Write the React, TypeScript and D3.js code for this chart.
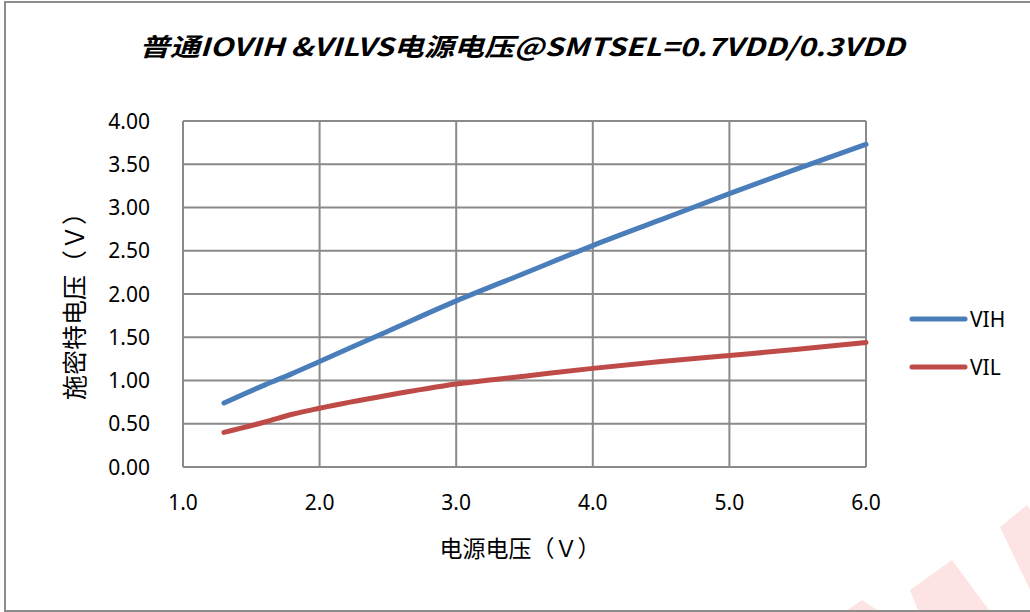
import { useRef, useEffect } from "react";
import * as d3 from "d3";

// supply voltage (V)
const supplyVoltage = [1.3, 1.6, 1.8, 2.0, 2.5, 3.0, 3.5, 4.0, 4.5, 5.0, 5.5, 6.0];
// Schmitt thresholds (V)
const vihValues = [0.74, 0.95, 1.08, 1.22, 1.57, 1.92, 2.24, 2.56, 2.86, 3.16, 3.45, 3.73];
const vilValues = [0.40, 0.52, 0.61, 0.68, 0.83, 0.96, 1.05, 1.14, 1.22, 1.29, 1.36, 1.44];

const xTicks = [1, 2, 3, 4, 5, 6];
const yTicks = [0, 0.5, 1, 1.5, 2, 2.5, 3, 3.5, 4];

const seriesNames = ["VIH", "VIL"];
const seriesColors = ["#4a7ebb", "#be4b48"];

const title = "普通IOVIH &VILVS电源电压@SMTSEL=0.7VDD/0.3VDD";
const xTitle = "电源电压（Ｖ）";
const yTitle = "施密特电压（Ｖ）";

export default function App() {
  const svgRef = useRef<SVGSVGElement>(null);
  const width = 1030;
  const height = 612;

  useEffect(() => {
    if (!svgRef.current) return;
    const svg = d3.select(svgRef.current);
    svg.selectAll("*").remove();

    const margin = { top: 121, right: 164, bottom: 145, left: 183 };
    const chartWidth = width - margin.left - margin.right;
    const chartHeight = height - margin.top - margin.bottom;
    const font = "'Noto Sans', 'Noto Sans CJK SC', sans-serif";
    const gridColor = "#8a8a8a";

    svg.append("rect").attr("width", width).attr("height", height).attr("fill", "#fff");

    // faint watermark shapes in the corner
    const marks = [
      [[952, 560], [910, 590], [930, 640], [1000, 625]],
      [[1027, 505], [1000, 527], [1030, 590], [1060, 560]],
      [[845, 612], [862, 600], [880, 612]],
    ];
    svg
      .append("g")
      .selectAll("path")
      .data(marks)
      .enter()
      .append("path")
      .attr("d", (d) => "M" + d.map((p) => p.join(",")).join("L") + "Z")
      .attr("fill", "#fcdcdc")
      .attr("opacity", 0.8);

    // chart border
    svg
      .append("rect")
      .attr("x", 5)
      .attr("y", 2)
      .attr("width", width + 10)
      .attr("height", 609)
      .attr("fill", "none")
      .attr("stroke", "#8c8c8c")
      .attr("stroke-width", 2);

    const xScale = d3.scaleLinear().domain([1, 6]).range([0, chartWidth]);
    const yScale = d3.scaleLinear().domain([0, 4]).range([chartHeight, 0]);

    const chart = svg
      .append("g")
      .attr("transform", `translate(${margin.left},${margin.top})`);

    // grid
    chart
      .append("g")
      .selectAll("line")
      .data(yTicks)
      .enter()
      .append("line")
      .attr("x1", 0)
      .attr("x2", chartWidth)
      .attr("y1", (d) => yScale(d))
      .attr("y2", (d) => yScale(d))
      .attr("stroke", gridColor)
      .attr("stroke-width", 2);

    chart
      .append("g")
      .selectAll("line")
      .data(xTicks)
      .enter()
      .append("line")
      .attr("x1", (d) => xScale(d))
      .attr("x2", (d) => xScale(d))
      .attr("y1", 0)
      .attr("y2", chartHeight)
      .attr("stroke", gridColor)
      .attr("stroke-width", 2);

    // tick labels
    chart
      .append("g")
      .selectAll("text")
      .data(yTicks)
      .enter()
      .append("text")
      .attr("x", -33)
      .attr("y", (d) => yScale(d))
      .attr("dy", "0.36em")
      .attr("text-anchor", "end")
      .attr("font-family", font)
      .attr("font-size", 21)
      .attr("fill", "#000")
      .text((d) => d.toFixed(2));

    chart
      .append("g")
      .selectAll("text")
      .data(xTicks)
      .enter()
      .append("text")
      .attr("x", (d) => xScale(d))
      .attr("y", chartHeight + 35)
      .attr("dy", "0.36em")
      .attr("text-anchor", "middle")
      .attr("font-family", font)
      .attr("font-size", 21)
      .attr("fill", "#000")
      .text((d) => d.toFixed(1));

    // series
    const series = [vihValues, vilValues];
    const line = d3
      .line<number>()
      .x((_, i) => xScale(supplyVoltage[i]))
      .y((d) => yScale(d))
      .curve(d3.curveMonotoneX);

    series.forEach((values, i) => {
      chart
        .append("path")
        .datum(values)
        .attr("d", line)
        .attr("fill", "none")
        .attr("stroke", seriesColors[i])
        .attr("stroke-width", 5)
        .attr("stroke-linecap", "round")
        .attr("stroke-linejoin", "round");
    });

    // legend
    const legend = svg.append("g").attr("transform", "translate(912,319)");
    seriesNames.forEach((name, i) => {
      const g = legend.append("g").attr("transform", `translate(0,${i * 48})`);
      g.append("line")
        .attr("x1", 0)
        .attr("x2", 53)
        .attr("stroke", seriesColors[i])
        .attr("stroke-width", 5)
        .attr("stroke-linecap", "round");
      g.append("text")
        .attr("x", 58)
        .attr("dy", "0.36em")
        .attr("font-family", font)
        .attr("font-size", 21)
        .attr("fill", "#000")
        .text(name);
    });

    // titles
    svg
      .append("text")
      .attr("x", 522)
      .attr("y", 47)
      .attr("dy", "0.36em")
      .attr("text-anchor", "middle")
      .attr("font-family", "'Noto Sans CJK SC', 'Noto Sans', sans-serif")
      .attr("font-size", 25)
      .attr("font-weight", "bold")
      .attr("font-style", "italic")
      .attr("textLength", 765)
      .attr("lengthAdjust", "spacingAndGlyphs")
      .attr("fill", "#000")
      .text(title);

    svg
      .append("text")
      .attr("x", 520)
      .attr("y", 549)
      .attr("dy", "0.36em")
      .attr("text-anchor", "middle")
      .attr("font-family", "'Noto Sans CJK SC', sans-serif")
      .attr("font-size", 23)
      .attr("fill", "#000")
      .text(xTitle);

    svg
      .append("text")
      .attr("transform", "translate(75,300) rotate(-90)")
      .attr("dy", "0.36em")
      .attr("text-anchor", "middle")
      .attr("font-family", "'Noto Sans CJK SC', sans-serif")
      .attr("font-size", 25)
      .attr("fill", "#000")
      .text(yTitle);
  }, []);

  return (
    <div style={{ position: "fixed", left: 0, top: 0, width, height }}>
      <svg ref={svgRef} width={width} height={height} style={{ display: "block" }} />
    </div>
  );
}
